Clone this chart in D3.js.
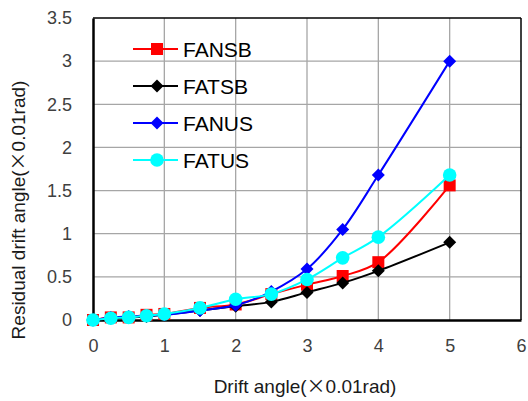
<!DOCTYPE html>
<html>
<head>
<meta charset="utf-8">
<script src="https://cdn.jsdelivr.net/npm/d3@7"></script>
<style>
  body { margin: 0; background: #fff; }
  text { font-family: "Liberation Sans", Arial, sans-serif; }
</style>
</head>
<body>
<div id="chart"></div>
<script>
  // data
  var driftAngles = [0, 0.25, 0.5, 0.75, 1, 1.5, 2, 2.5, 3, 3.5, 4, 5];

  var fansb = [0, 0.03, 0.03, 0.06, 0.07, 0.14, 0.18, 0.30, 0.41, 0.51, 0.67, 1.56],
      fatsb = [0, 0.02, 0.03, 0.04, 0.06, 0.11, 0.16, 0.21, 0.32, 0.43, 0.57, 0.90],
      fanus = [0, 0.03, 0.04, 0.05, 0.06, 0.11, 0.17, 0.33, 0.59, 1.05, 1.68, 3.00],
      fatus = [0, 0.02, 0.03, 0.05, 0.07, 0.14, 0.24, 0.30, 0.47, 0.72, 0.96, 1.68];

  var seriesNames = ['FANSB', 'FATSB', 'FANUS', 'FATUS'];
  var seriesValues = [fansb, fatsb, fanus, fatus];
  var seriesColors = ['#ff0000', '#000000', '#0000ff', '#00ffff'];
  var seriesMarkers = ['square', 'diamond', 'diamond', 'circle'];

  var xTicks = [0, 1, 2, 3, 4, 5, 6];
  var yTicks = [0, 0.5, 1, 1.5, 2, 2.5, 3, 3.5];

  // layout (plot box)
  var width  = 528,
      height = 401,
      pLeft = 93, pRight = 521, pTop = 18, pBottom = 320;

  var x = d3.scaleLinear().domain([0, 6]).range([pLeft, pRight]);
  var y = d3.scaleLinear().domain([0, 3.5]).range([pBottom, pTop]);

  var svg = d3.select('#chart').append('svg')
    .attr('width', width)
    .attr('height', height);

  // gridlines
  svg.append('g').selectAll('line')
    .data(xTicks.slice(1, -1))
    .enter().append('line')
    .attr('x1', function(d){ return x(d) }).attr('x2', function(d){ return x(d) })
    .attr('y1', pTop).attr('y2', pBottom)
    .attr('stroke', '#a6a6a6').attr('stroke-width', 1.3);

  svg.append('g').selectAll('line')
    .data(yTicks.slice(1, -1))
    .enter().append('line')
    .attr('y1', function(d){ return y(d) }).attr('y2', function(d){ return y(d) })
    .attr('x1', pLeft).attr('x2', pRight)
    .attr('stroke', '#a6a6a6').attr('stroke-width', 1.3);

  // frame
  svg.append('line').attr('x1', pLeft).attr('x2', pRight).attr('y1', pTop).attr('y2', pTop)
    .attr('stroke', '#000').attr('stroke-width', 1.5);
  svg.append('line').attr('x1', pRight).attr('x2', pRight).attr('y1', pTop).attr('y2', pBottom)
    .attr('stroke', '#000').attr('stroke-width', 1.5);

  // axes
  var fmt = d3.format('');
  var xAxis = d3.axisBottom(x).tickValues(xTicks).tickFormat(fmt).tickSize(0).tickPadding(19);
  var yAxis = d3.axisLeft(y).tickValues(yTicks).tickFormat(fmt).tickSize(0).tickPadding(21);

  var gx = svg.append('g').attr('transform', 'translate(0,' + pBottom + ')').call(xAxis);
  var gy = svg.append('g').attr('transform', 'translate(' + pLeft + ',0)').call(yAxis);

  [gx, gy].forEach(function(g){
    g.select('.domain').attr('stroke', '#000').attr('stroke-width', 2.5);
    g.selectAll('text')
      .attr('fill', '#404040')
      .style('font-size', '18px')
      .style('font-family', '"Liberation Sans", Arial, sans-serif');
  });

  // axis titles
  function title(sel, before, after){
    sel.append('tspan').text(before);
    sel.append('tspan').style('font-family', '"Noto Sans CJK JP", sans-serif').text('×');
    sel.append('tspan').text(after);
  }

  svg.append('text')
    .attr('x', 305).attr('y', 393)
    .attr('text-anchor', 'middle')
    .style('font-size', '19px')
    .attr('fill', '#1a1a1a')
    .call(title, 'Drift angle(', '0.01rad)');

  svg.append('text')
    .attr('transform', 'translate(25,' + 210 + ') rotate(-90)')
    .attr('text-anchor', 'middle')
    .style('font-size', '19px')
    .attr('fill', '#1a1a1a')
    .call(title, 'Residual drift angle(', '0.01rad)');

  // markers
  function marker(g, type, color){
    if(type === 'square'){
      g.append('rect').attr('x', -6).attr('y', -6).attr('width', 12).attr('height', 12)
        .attr('fill', color);
    } else if(type === 'diamond'){
      g.append('path').attr('d', 'M0,-6.5L6.5,0L0,6.5L-6.5,0Z').attr('fill', color);
    } else {
      g.append('circle').attr('r', 6.8).attr('fill', color);
    }
  }

  var line = d3.line()
    .x(function(d){ return x(d[0]) })
    .y(function(d){ return y(d[1]) })
    .curve(d3.curveCatmullRom.alpha(0.5));

  seriesValues.forEach(function(vals, i){
    var pts = driftAngles.map(function(a, j){ return [a, vals[j]] });
    var g = svg.append('g');
    g.append('path')
      .attr('d', line(pts))
      .attr('fill', 'none')
      .attr('stroke', seriesColors[i])
      .attr('stroke-width', 2);
    g.selectAll('g').data(pts).enter().append('g')
      .attr('transform', function(d){ return 'translate(' + x(d[0]) + ',' + y(d[1]) + ')' })
      .each(function(){ marker(d3.select(this), seriesMarkers[i], seriesColors[i]) });
  });

  // legend
  var legend = svg.append('g');
  seriesNames.forEach(function(name, i){
    var ly = 49 + i * 37;
    legend.append('line')
      .attr('x1', 133).attr('x2', 178).attr('y1', ly).attr('y2', ly)
      .attr('stroke', seriesColors[i]).attr('stroke-width', 2);
    var m = legend.append('g').attr('transform', 'translate(157,' + ly + ')');
    marker(m, seriesMarkers[i], seriesColors[i]);
    legend.append('text')
      .attr('x', 183).attr('y', ly + 7.5)
      .style('font-size', '21px')
      .attr('fill', '#000')
      .text(name);
  });
</script>
</body>
</html>
